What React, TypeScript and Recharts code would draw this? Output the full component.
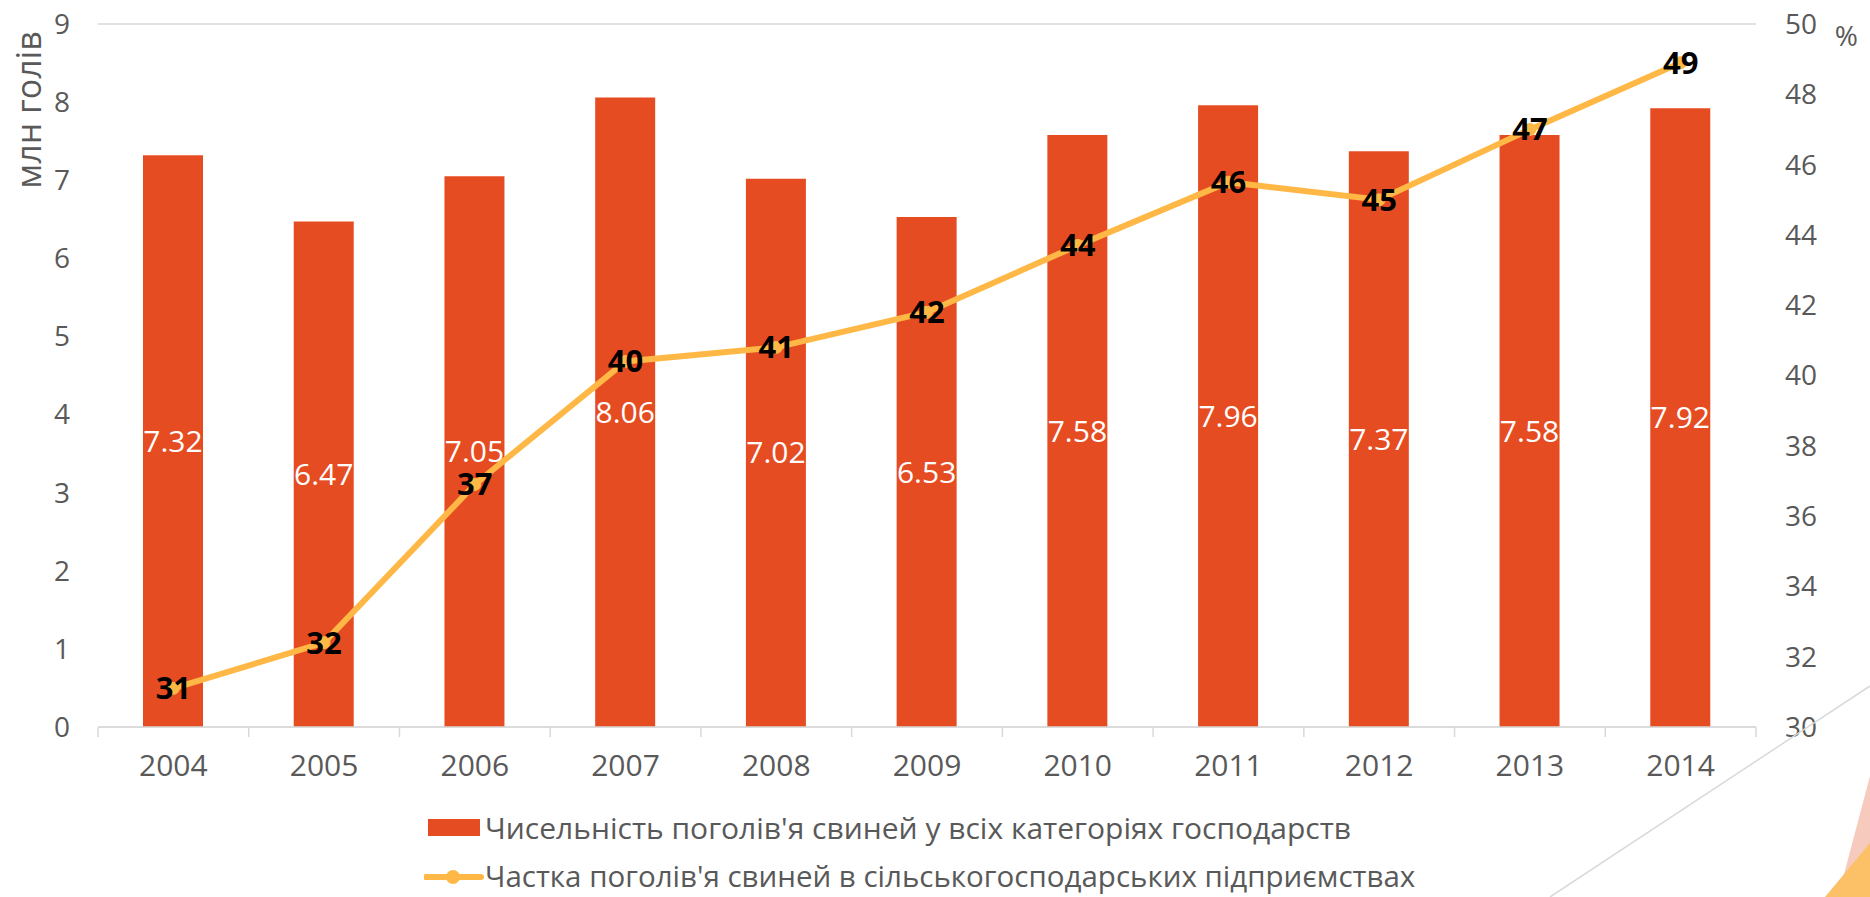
import React from 'react';
import {
  ComposedChart,
  Bar,
  Line,
  XAxis,
  YAxis,
  CartesianGrid,
  LabelList,
  Legend,
  Label,
} from 'recharts';

const years = ['2004', '2005', '2006', '2007', '2008', '2009', '2010', '2011', '2012', '2013', '2014'];
const pigHeads = [7.32, 6.47, 7.05, 8.06, 7.02, 6.53, 7.58, 7.96, 7.37, 7.58, 7.92];
const enterpriseShare = [31.1, 32.4, 36.9, 40.4, 40.8, 41.8, 43.7, 45.5, 45.0, 47.0, 48.9];
const leftTicks = [0, 1, 2, 3, 4, 5, 6, 7, 8, 9];
const rightTicks = [30, 32, 34, 36, 38, 40, 42, 44, 46, 48, 50];
const barName = "Чисельність поголів'я свиней у всіх категоріях господарств";
const lineName = "Частка поголів'я свиней в сільськогосподарських підприємствах";
const leftAxisTitle = 'млн голів';
const rightAxisTitle = '%';

const data = years.map((y, i) => ({ year: y, heads: pigHeads[i], share: enterpriseShare[i] }));

const FONT = '"Open Sans", "Noto Sans", "DejaVu Sans", sans-serif';
const TEXT = '#595959';
const BAR = '#E64C22';
const LINE = '#FFB845';
const GRID = '#D9D9D9';

const XTick = (props: any) => {
  const { x, y, payload, index, visibleTicksCount, width } = props;
  const half = payload && payload.offset ? payload.offset : width / (2 * visibleTicksCount);
  const left = x - half;
  const right = x + half;
  return (
    <g>
      <line x1={left} y1={y} x2={left} y2={y + 10} stroke={GRID} strokeWidth={1.5} />
      {index === visibleTicksCount - 1 && (
        <line x1={right} y1={y} x2={right} y2={y + 10} stroke={GRID} strokeWidth={1.5} />
      )}
      <text x={x} y={y + 49} textAnchor="middle" fill={TEXT} fontSize={30} fontFamily={FONT}>
        {payload.value}
      </text>
    </g>
  );
};

const LegendContent = () => (
  <div style={{ position: 'relative', width: 1870, height: 90, fontFamily: FONT, fontSize: 30, color: TEXT }}>
    <div style={{ position: 'absolute', left: 428, top: 12, width: 52, height: 17, background: BAR }} />
    <div style={{ position: 'absolute', left: 485, top: 6, height: 30, lineHeight: '30px', whiteSpace: 'nowrap' }}>
      {barName}
    </div>
    <svg style={{ position: 'absolute', left: 424, top: 57 }} width={60} height={26}>
      <line x1={2} y1={13} x2={57} y2={13} stroke={LINE} strokeWidth={6} strokeLinecap="round" />
      <circle cx={29} cy={13} r={7} fill={LINE} />
    </svg>
    <div style={{ position: 'absolute', left: 485, top: 55, height: 28, lineHeight: '28px', fontSize: 29.5, whiteSpace: 'nowrap' }}>
      {lineName}
    </div>
  </div>
);

export default function App() {
  return (
    <div style={{ position: 'absolute', left: 0, top: 0, width: 1870, height: 897, background: '#fff', overflow: 'hidden' }}>
      <ComposedChart
        width={1870}
        height={897}
        data={data}
        margin={{ top: 24, right: 0, bottom: 0, left: 0 }}
        barSize={60}
      >
        <CartesianGrid vertical={false} stroke={GRID} strokeWidth={1.5} />
        <XAxis
          dataKey="year"
          height={80}
          axisLine={{ stroke: GRID, strokeWidth: 1.5 }}
          tickLine={false}
          tickSize={0}
          tickMargin={0}
          tick={<XTick />}
          interval={0}
        />
        <YAxis
          yAxisId="left"
          orientation="left"
          width={98}
          domain={[0, 9]}
          ticks={leftTicks}
          axisLine={false}
          tickLine={false}
          tickSize={0}
          tickMargin={28}
          tick={{ fill: TEXT, fontSize: 28, fontFamily: FONT }}
        >
          <Label
            content={(p: any) => {
              const vb = p.viewBox || { x: 0, y: 24 };
              const cx = vb.x + 28;
              const cy = vb.y + 86;
              return (
                <text
                  x={cx}
                  y={cy}
                  transform={`rotate(-90 ${cx} ${cy})`}
                  textAnchor="middle"
                  dominantBaseline="central"
                  fill={TEXT}
                  fontSize={34}
                  fontFamily={FONT}
                >
                  {leftAxisTitle}
                </text>
              );
            }}
          />
        </YAxis>
        <YAxis
          yAxisId="right"
          orientation="right"
          width={114}
          domain={[30, 50]}
          ticks={rightTicks}
          axisLine={false}
          tickLine={false}
          tickSize={0}
          tickMargin={29}
          tick={{ fill: TEXT, fontSize: 28, fontFamily: FONT, textAnchor: 'start' }}
        >
          <Label
            content={(p: any) => {
              const vb = p.viewBox || { x: 1756, y: 24 };
              return (
                <text
                  x={vb.x + 102}
                  y={vb.y + 11}
                  textAnchor="end"
                  dominantBaseline="central"
                  fill={TEXT}
                  fontSize={28}
                  fontFamily={FONT}
                >
                  {rightAxisTitle}
                </text>
              );
            }}
          />
        </YAxis>
        <Legend
          verticalAlign="bottom"
          content={<LegendContent />}
          wrapperStyle={{ position: 'absolute', left: 0, bottom: 0, width: 1870, height: 90 }}
        />
        <Bar yAxisId="left" dataKey="heads" name={barName} fill={BAR} isAnimationActive={false}>
          <LabelList
            dataKey="heads"
            position="center"
            fill="#FFFFFF"
            fontSize={30}
            fontFamily={FONT}
            formatter={(v: any) => Number(v).toFixed(2)}
          />
        </Bar>
        <Line
          yAxisId="right"
          dataKey="share"
          name={lineName}
          stroke={LINE}
          strokeWidth={6}
          dot={{ r: 6, fill: LINE, stroke: LINE, strokeWidth: 1 }}
          activeDot={false}
          isAnimationActive={false}
        >
          <LabelList
            dataKey="share"
            position="center"
            fill="#000000"
            fontSize={31}
            fontWeight="bold"
            fontFamily={FONT}
            formatter={(v: any) => String(Math.round(Number(v)))}
          />
        </Line>
      </ComposedChart>
      <svg style={{ position: 'absolute', left: 0, top: 0, pointerEvents: 'none' }} width={1870} height={897}>
        <line x1={1550} y1={897} x2={1870} y2={686} stroke={GRID} strokeWidth={1.5} />
        <polygon points="1838,897 1870,776 1870,897" fill="#F6CBBD" />
        <polygon points="1825,897 1870,843 1870,897" fill="#FCC066" />
      </svg>
    </div>
  );
}
